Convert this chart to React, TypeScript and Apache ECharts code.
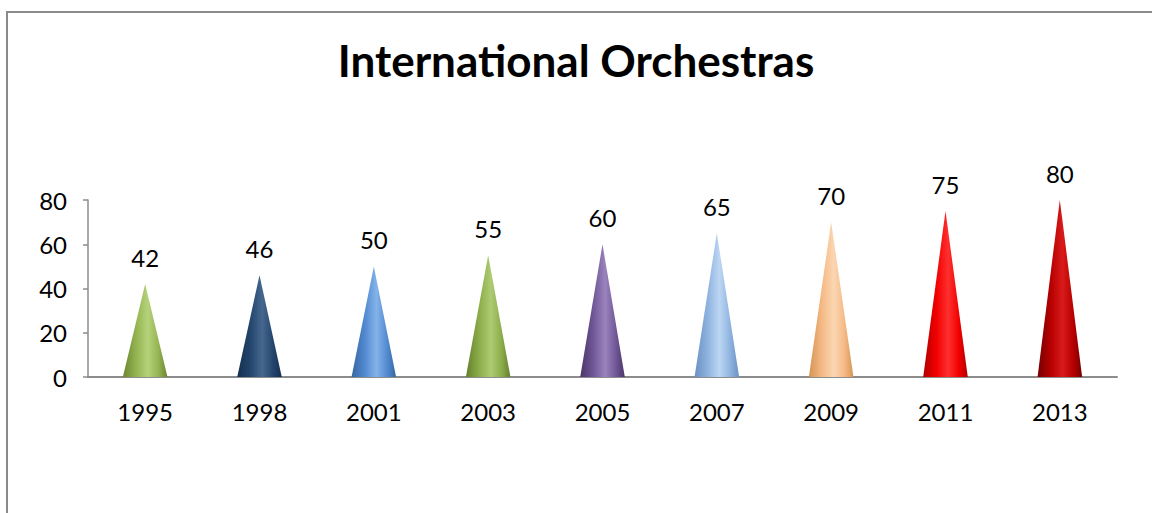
import React, { useEffect, useRef } from "react";
import * as echarts from "echarts";

const title = "International Orchestras";
const categories = ["1995", "1998", "2001", "2003", "2005", "2007", "2009", "2011", "2013"];
const values = [42, 46, 50, 55, 60, 65, 70, 75, 80];
const yTicks = { min: 0, max: 80, interval: 20 };
// [edge, base, highlight]
const coneColors = [
  ["#6a8532", "#94b451", "#b5d27a"],
  ["#14304f", "#24456d", "#46688f"],
  ["#3667a2", "#5289d0", "#84b3ea"],
  ["#63802c", "#8cad4a", "#adcb72"],
  ["#4a3668", "#715797", "#9a83bd"],
  ["#6a91c2", "#8fb3df", "#bcd6f3"],
  ["#d59454", "#f5ba86", "#fbd6b2"],
  ["#b00000", "#f20000", "#ff3030"],
  ["#740000", "#b80000", "#d81a1a"],
];

export default function App() {
  const ref = useRef<HTMLDivElement>(null);
  useEffect(() => {
    if (!ref.current) return;
    const chart = echarts.init(ref.current, null, { renderer: "svg" });
    const font = "Lato, 'Open Sans', sans-serif";
    chart.setOption({
      animation: false,
      backgroundColor: "#ffffff",
      title: {
        text: title,
        left: "center",
        top: 33,
        textStyle: { fontFamily: font, fontWeight: "bold", fontSize: 44, color: "#000" },
      },
      graphic: [
        {
          type: "rect",
          shape: { x: 7, y: 12, width: 2000, height: 2000 },
          style: { fill: "none", stroke: "#8a8a8a", lineWidth: 2 },
          silent: true,
        },
      ],
      grid: { left: 88, right: 35, top: 200, bottom: 136 },
      xAxis: {
        type: "category",
        data: categories,
        axisLine: { lineStyle: { color: "#8c8c8c", width: 2 } },
        axisTick: { show: false },
        axisLabel: { fontFamily: font, fontSize: 24, color: "#000", margin: 22 },
      },
      yAxis: {
        type: "value",
        min: yTicks.min,
        max: yTicks.max,
        interval: yTicks.interval,
        axisLine: { show: true, lineStyle: { color: "#8c8c8c", width: 1.5 } },
        axisTick: { show: true, length: 5, lineStyle: { color: "#8c8c8c", width: 1.5 } },
        splitLine: { show: false },
        axisLabel: { fontFamily: font, fontSize: 24, color: "#000", margin: 21 },
      },
      series: [
        {
          type: "custom",
          data: values.map((v, i) => [i, v]),
          encode: { x: 0, y: 1 },
          renderItem: (params: any, api: any) => {
            const idx = params.dataIndex;
            const top = api.coord([api.value(0), api.value(1)]);
            const base = api.coord([api.value(0), 0]);
            const band = api.size([1, 0])[0];
            const half = band * 0.195;
            const c = coneColors[idx % coneColors.length];
            return {
              type: "group",
              children: [
                {
                  type: "polygon",
                  shape: {
                    points: [
                      [base[0] - half, base[1]],
                      [top[0], top[1]],
                      [base[0] + half, base[1]],
                    ],
                  },
                  style: {
                    fill: new echarts.graphic.LinearGradient(0, 0, 1, 0, [
                      { offset: 0, color: c[0] },
                      { offset: 0.3, color: c[1] },
                      { offset: 0.56, color: c[2] },
                      { offset: 0.8, color: c[1] },
                      { offset: 1, color: c[0] },
                    ]),
                  },
                },
                {
                  type: "text",
                  x: top[0],
                  y: top[1] - 27,
                  style: {
                    text: String(api.value(1)),
                    fontFamily: font,
                    fontSize: 24,
                    fill: "#000",
                    align: "center",
                    verticalAlign: "middle",
                  },
                },
              ],
            };
          },
        },
      ],
    });
    return () => chart.dispose();
  }, []);
  return (
    <div
      ref={ref}
      style={{ position: "absolute", left: 0, top: 0, width: 1152, height: 513 }}
    />
  );
}
